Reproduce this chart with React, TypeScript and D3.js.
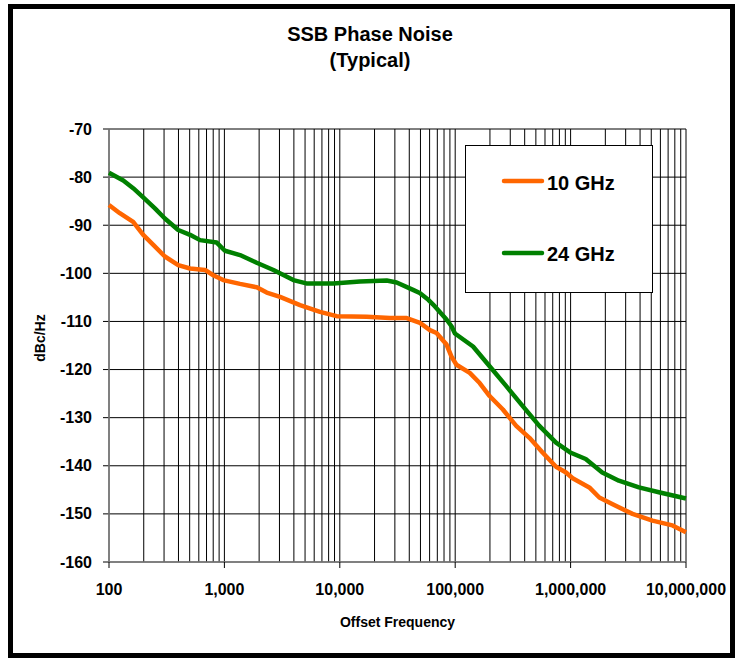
import * as d3 from "d3";
import React from "react";

// offset frequency (Hz) and phase noise (dBc/Hz)
const freq10 = [100, 124, 162, 198, 242, 305, 398, 504, 679, 801, 977, 1365, 1906, 2327, 3035, 4522, 6735, 9390, 17100, 27200, 38000, 49500, 60400, 68900, 84100, 92900, 102500, 133700, 163000, 198700, 259000, 338000, 440000, 574000, 748000, 913000, 1042000, 1452000, 1774000, 2314000, 3440000, 5120000, 7630000, 10000000];
const noise10 = [-85.8, -87.5, -89.3, -92.0, -94.1, -96.5, -98.3, -99.0, -99.3, -100.4, -101.4, -102.2, -102.9, -104.0, -104.9, -106.6, -108.0, -108.9, -109.0, -109.3, -109.3, -110.3, -111.8, -112.4, -114.8, -117.3, -119.0, -120.7, -122.8, -125.5, -128.3, -131.7, -134.2, -137.3, -140.2, -141.4, -142.6, -144.5, -146.6, -148.0, -150.0, -151.4, -152.4, -153.8];

const freq24 = [100, 133, 162, 198, 250, 305, 398, 504, 615, 858, 1010, 1365, 1906, 2660, 3960, 5140, 8770, 14950, 25500, 31100, 43600, 49300, 58500, 64400, 84100, 92900, 99500, 142800, 198700, 276000, 385000, 536000, 748000, 1005000, 1352000, 1880000, 2620000, 3910000, 5820000, 10000000];
const noise24 = [-79.1, -80.7, -82.3, -84.2, -86.5, -88.6, -91.0, -92.0, -93.1, -93.6, -95.3, -96.2, -97.8, -99.3, -101.4, -102.1, -102.1, -101.7, -101.5, -101.9, -103.5, -104.1, -105.5, -106.5, -109.6, -111.0, -112.5, -115.2, -119.3, -123.4, -127.6, -131.7, -135.2, -137.3, -138.6, -141.4, -143.1, -144.5, -145.5, -146.8];

const xTicks = [100, 1000, 10000, 100000, 1000000, 10000000];
const yTicks = [-70, -80, -90, -100, -110, -120, -130, -140, -150, -160];
const seriesNames = ["10 GHz", "24 GHz"];
const seriesColors = ["#FF6600", "#008000"];

const W = 738;
const H = 664;
const plot = { left: 109, right: 686, top: 129, bottom: 562 };
const font = "'Liberation Sans', Arial, sans-serif";

export default function App() {
  const x = d3.scaleLog().domain([100, 1e7]).range([plot.left, plot.right]);
  const y = d3.scaleLinear().domain([-160, -70]).range([plot.bottom, plot.top]);

  const line = d3
    .line<[number, number]>()
    .x((d) => x(d[0]))
    .y((d) => y(d[1]));

  const series = [
    freq10.map((f, i) => [f, noise10[i]] as [number, number]),
    freq24.map((f, i) => [f, noise24[i]] as [number, number]),
  ];

  // 1..9 in every decade for the vertical grid
  const gridX: number[] = [];
  for (let e = 2; e < 7; e++) {
    for (let m = 1; m < 10; m++) gridX.push(m * Math.pow(10, e));
  }
  gridX.push(1e7);

  const fmt = d3.format(",");

  return (
    <svg
      width={W}
      height={H}
      style={{ position: "absolute", left: 0, top: 0, background: "#fff" }}
      fontFamily={font}
      fontWeight="bold"
    >
      <rect x={0} y={0} width={W} height={H} fill="#fff" />
      <rect x={10.5} y={6.5} width={722} height={649} fill="none" stroke="#000" strokeWidth={5} />

      <text x={370} y={41} textAnchor="middle" fontSize={20}>SSB Phase Noise</text>
      <text x={370} y={67} textAnchor="middle" fontSize={20}>(Typical)</text>

      {/* grid */}
      <g>
        {gridX.map((f) => (
          <line key={"gx" + f} x1={x(f)} x2={x(f)} y1={plot.top} y2={plot.bottom} stroke="#000" strokeWidth={1} />
        ))}
        {yTicks.map((v) => (
          <line key={"gy" + v} x1={plot.left - 6} x2={plot.right} y1={y(v)} y2={y(v)} stroke="#000" strokeWidth={1} />
        ))}
      </g>

      {/* axes */}
      <line x1={plot.left} x2={plot.left} y1={plot.top} y2={plot.bottom} stroke="#808080" strokeWidth={1.5} />
      <line x1={plot.left} x2={plot.right} y1={plot.bottom} y2={plot.bottom} stroke="#808080" strokeWidth={1.5} />
      {xTicks.map((f) => (
        <line key={"xt" + f} x1={x(f)} x2={x(f)} y1={plot.bottom} y2={plot.bottom + 6} stroke="#000" strokeWidth={1} />
      ))}

      {yTicks.map((v) => (
        <text key={"yl" + v} x={92} y={y(v) + 5.5} textAnchor="end" fontSize={16}>
          {v}
        </text>
      ))}
      {xTicks.map((f) => (
        <text key={"xl" + f} x={x(f)} y={595} textAnchor="middle" fontSize={16}>
          {fmt(f)}
        </text>
      ))}

      <text transform="translate(45,338) rotate(-90)" textAnchor="middle" fontSize={14}>dBc/Hz</text>
      <text x={(plot.left + plot.right) / 2} y={627} textAnchor="middle" fontSize={14}>Offset Frequency</text>

      {/* curves */}
      {series.map((s, i) => (
        <path key={"s" + i} d={line(s) || ""} fill="none" stroke={seriesColors[i]} strokeWidth={4.5} strokeLinejoin="round" />
      ))}

      {/* legend */}
      <rect x={465.5} y={145.5} width={187} height={147} fill="#fff" stroke="#000" strokeWidth={1} />
      {seriesNames.map((n, i) => (
        <g key={n}>
          <line x1={504} x2={542} y1={181 + i * 72} y2={181 + i * 72} stroke={seriesColors[i]} strokeWidth={4.5} strokeLinecap="round" />
          <text x={547} y={190 + i * 71} fontSize={20}>{n}</text>
        </g>
      ))}
    </svg>
  );
}
